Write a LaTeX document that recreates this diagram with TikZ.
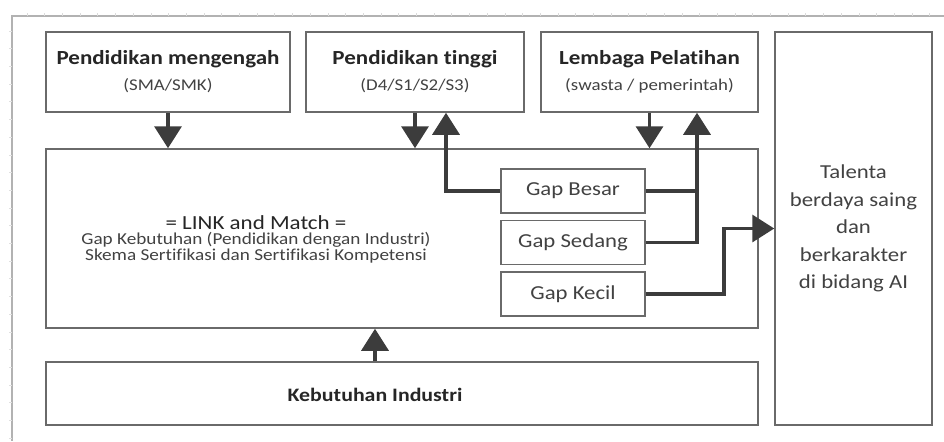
\documentclass[tikz,border=0pt]{standalone}
\usepackage{fontspec}
\setmainfont{Carlito}[FakeStretch=1.15, Ligatures=NoCommon]
\usetikzlibrary{arrows.meta, positioning, calc}

\definecolor{garis}{HTML}{6A6A6A}
\definecolor{panah}{HTML}{3C3C3C}
\definecolor{tinta}{HTML}{262626}
\definecolor{abu}{HTML}{424242}

\newcommand{\judul}[1]{{\fontsize{10}{13}\selectfont\bfseries #1}}
\newcommand{\ket}[1]{{\fontsize{8.2}{13}\selectfont\color{abu}#1}}
\newcommand{\rapat}{\fontsize{8.35}{7.8}\selectfont\lineskiplimit=-20pt\relax}

\begin{document}
\begin{tikzpicture}[
		x=0.5pt, y=-0.5pt,
		node distance=3pt and 8pt,
		every node/.style={inner sep=0pt, text=tinta},
		kotak/.style={draw=garis, line width=0.75pt, fill=white},
		asal/.style={kotak, minimum height=40pt, align=center, font=\fontsize{10}{13}\selectfont},
		gap/.style={kotak, minimum width=72pt, minimum height=22pt, font=\fontsize{9.9}{12}\selectfont, text=abu},
		alir/.style={draw=panah, line width=1.75pt, -{Triangle[width=13.5pt,length=11pt]}},
		sambung/.style={draw=panah, line width=1.75pt},
		]
		\useasboundingbox (0,0) rectangle (944,441);
		% Page frame
		\draw[black!30, line width=0.6pt] (944,16) -- (12,16) -- (12,441);
		\foreach \i in {0,...,51} \draw[black!14, line width=0.4pt] ({27+17.7*\i},16) -- ++(0,-3);
		\foreach \j in {0,...,23} \draw[black!12, line width=0.4pt] (12,{31+17.7*\j}) -- ++(-3,0);
		
		% Nodes for the sources
		\node[asal, minimum width=122pt] (menengah) at (168,72) {\judul{Pendidikan mengengah}\\\ket{(SMA/SMK)}};
		\node[asal, minimum width=109pt] (tinggi) at (415,72) {\judul{Pendidikan tinggi}\\\ket{(D4/S1/S2/S3)}};
		\node[asal, minimum width=108.5pt] (latih) at (649.5,72) {\judul{Lembaga Pelatihan}\\\ket{(swasta / pemerintah)}};
		
		% Link and match
		\node[kotak, minimum width=356pt, minimum height=89.5pt] (link) at (402,238.5) {};
		\node[align=center, font=\rapat, text=abu] (linkteks) at (256,239) {{\fontsize{10}{7.8}\selectfont\color{tinta}= LINK and Match =}\\Gap Kebutuhan (Pendidikan dengan Industri)\\Skema Sertifikasi dan Sertifikasi Kompetensi};
		
		% Gap boxes
		\node[gap] (besar) at (573,191) {Gap Besar};
		\node[gap, below=of besar] (sedang) {Gap Sedang};
		\node[gap, below=of sedang] (kecil) {Gap Kecil};
		
		% Talent and industry
		\node[kotak, minimum width=78.5pt, minimum height=196.5pt, align=center, font=\fontsize{9.9}{13.8}\selectfont, text=abu] (talenta) at (853.5,228.5) {Talenta\\berdaya saing\\dan\\berkarakter\\di bidang AI};
		\node[kotak, minimum width=356pt, minimum height=31.5pt] (industri) at (402,393.5) {};
		\node[font=\fontsize{9.5}{12}\selectfont\bfseries] (industriteks) at (375,395) {Kebutuhan Industri};
		
		% Arrows into link and match
		\draw[alir] (menengah.south) -- (menengah.south |- link.north);
		\draw[alir] (tinggi.south) -- (tinggi.south |- link.north);
		\draw[alir] (latih.south) -- (latih.south |- link.north);
		\draw[alir] (industriteks |- industri.north) -- (industriteks |- link.south);
		
		% Gap routes
		\coordinate (naik1) at ($(tinggi.south)+(31,0)$);
		\coordinate (naik2) at ($(latih.south)+(47.5,0)$);
		\coordinate (belok) at ($(kecil.east)+(78,0)$);
		\draw[alir] (besar.west) -| (naik1);
		\draw[sambung] (besar.east) -- (besar.east -| naik2);
		\draw[alir] (sedang.east) -| (naik2);
		\draw[alir] (kecil.east) -| (belok |- talenta.west) -- (talenta.west);
	\end{tikzpicture}
\end{document}
